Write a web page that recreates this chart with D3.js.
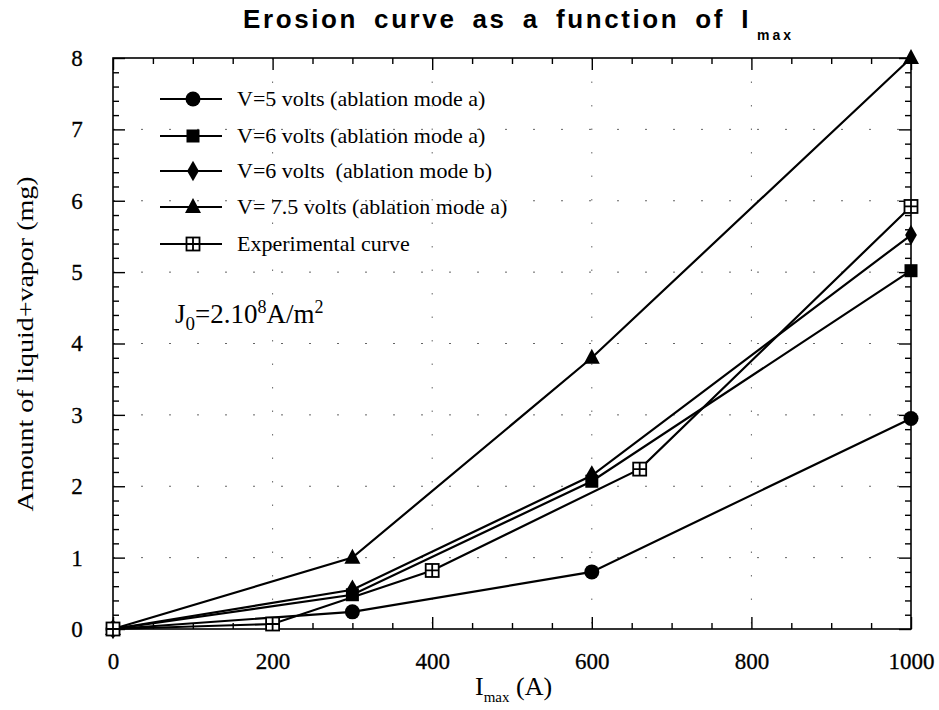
<!DOCTYPE html>
<html><head><meta charset="utf-8">
<script src="https://cdn.jsdelivr.net/npm/d3@7"></script>
<style>body{margin:0;background:#fff}</style>
</head><body>
<svg id="c" width="939" height="710"></svg>
<script>
const xTicks = [0, 200, 400, 600, 800, 1000];
const yTicks = [0, 1, 2, 3, 4, 5, 6, 7, 8];
const seriesNames = [
  "V=5 volts (ablation mode a)",
  "V=6 volts (ablation mode a)",
  "V=6 volts  (ablation mode b)",
  "V= 7.5 volts (ablation mode a)",
  "Experimental curve"
];
const seriesMarkers = ["circle", "square", "diamond", "triangle", "boxcross"];
const v5x = [0, 300, 600, 1000];
const v5y = [0, 0.24, 0.80, 2.95];
const v6ax = [0, 300, 600, 1000];
const v6ay = [0, 0.48, 2.07, 5.02];
const v6bx = [0, 300, 600, 1000];
const v6by = [0, 0.55, 2.15, 5.52];
const v75x = [0, 300, 600, 1000];
const v75y = [0, 1.0, 3.8, 8.0];
const expX = [0, 200, 400, 660, 1000];
const expY = [0, 0.07, 0.82, 2.24, 5.92];

const seriesData = [
  d3.zip(v5x, v5y), d3.zip(v6ax, v6ay), d3.zip(v6bx, v6by), d3.zip(v75x, v75y), d3.zip(expX, expY)
];

const svg = d3.select("#c");
const L = 113, R = 911, T = 58, B = 629;
const x = d3.scaleLinear().domain([0, 1000]).range([L, R]);
const y = d3.scaleLinear().domain([0, 8]).range([B, T]);
const serif = "'Liberation Serif','Times New Roman',serif";

// sparse dotted grid
const g = svg.append("g");
g.selectAll("line.gx").data(xTicks.slice(1, -1)).join("line")
  .attr("x1", d => x(d)).attr("x2", d => x(d)).attr("y1", T).attr("y2", B)
  .attr("stroke", "#000").attr("stroke-width", 1).attr("stroke-dasharray", "1.5,22").attr("opacity", 0.6);
g.selectAll("line.gy").data(yTicks.slice(1, -1)).join("line")
  .attr("y1", d => y(d)).attr("y2", d => y(d)).attr("x1", L).attr("x2", R)
  .attr("stroke", "#000").attr("stroke-width", 1).attr("stroke-dasharray", "2,26").attr("opacity", 0.6);

// frame
svg.append("rect").attr("x", L).attr("y", T).attr("width", R - L).attr("height", B - T)
  .attr("fill", "none").attr("stroke", "#000").attr("stroke-width", 1.6);

// inward ticks via d3 axes
const xMinor = d3.range(0, 1001, 50);
const yMinor = d3.range(0, 8.001, 0.2).map(v => +v.toFixed(1));
function ticksOn(axisGen, tr, vals, size) {
  svg.append("g").attr("transform", tr)
    .call(axisGen.tickValues(vals).tickSize(size).tickFormat(""))
    .call(s => s.select(".domain").remove())
    .call(s => s.selectAll("line").attr("stroke-width", 1.4));
}
const xMaj = xTicks, yMaj = yTicks;
ticksOn(d3.axisTop(x), `translate(0,${B})`, xMinor.filter(v => !xMaj.includes(v)), 6);
ticksOn(d3.axisTop(x), `translate(0,${B})`, xMaj, 12);
ticksOn(d3.axisBottom(x), `translate(0,${T})`, xMinor.filter(v => !xMaj.includes(v)), 6);
ticksOn(d3.axisBottom(x), `translate(0,${T})`, xMaj, 12);
ticksOn(d3.axisRight(y), `translate(${L},0)`, yMinor.filter(v => !yMaj.includes(v)), 6);
ticksOn(d3.axisRight(y), `translate(${L},0)`, yMaj, 12);
ticksOn(d3.axisLeft(y), `translate(${R},0)`, yMinor.filter(v => !yMaj.includes(v)), 6);
ticksOn(d3.axisLeft(y), `translate(${R},0)`, yMaj, 12);

// tick labels
svg.append("g").attr("transform", `translate(0,${B})`)
  .call(d3.axisBottom(x).tickValues(xTicks).tickSize(0).tickPadding(24).tickFormat(d3.format("d")))
  .call(s => s.select(".domain").remove())
  .call(s => s.selectAll("text").attr("font-family", serif).attr("font-size", 23).attr("fill", "#000")
    .attr("stroke", "#000").attr("stroke-width", 0.3));
svg.append("g").attr("transform", `translate(${L},0)`)
  .call(d3.axisLeft(y).tickValues(yTicks).tickSize(0).tickPadding(0).tickFormat(d3.format("d")))
  .call(s => s.select(".domain").remove())
  .call(s => s.selectAll("text").attr("font-family", serif).attr("font-size", 23).attr("fill", "#000")
    .attr("text-anchor", "middle").attr("x", 77 - L).attr("stroke", "#000").attr("stroke-width", 0.3));

// axis titles
const xt = svg.append("text").attr("x", 475).attr("y", 695)
  .attr("font-family", serif).attr("font-size", 26);
xt.append("tspan").text("I");
xt.append("tspan").attr("dy", 7).attr("font-size", 15).text("max");
xt.append("tspan").attr("dy", -7).text(" (A)");
svg.append("text").attr("transform", "translate(33,344) rotate(-90)").attr("text-anchor", "middle")
  .attr("font-family", serif).attr("font-size", 24).attr("textLength", 335).attr("lengthAdjust", "spacingAndGlyphs")
  .text("Amount of liquid+vapor (mg)");

// title
const tt = svg.append("text").attr("x", 243).attr("y", 28)
  .attr("font-family", "'Liberation Sans',Arial,sans-serif").attr("font-weight", "bold").attr("font-size", 26);
const tMain = tt.append("tspan").attr("letter-spacing", 2.6).text("Erosion curve as a function of I");
const natLen = tMain.node().getComputedTextLength();
tMain.attr("word-spacing", Math.max(0, (508 - natLen) / 6));
tt.append("tspan").attr("x", 757).attr("dy", 12).attr("font-size", 14).attr("letter-spacing", 3).text("max");

// lines
const line = d3.line().x(d => x(d[0])).y(d => y(d[1]));
svg.append("g").selectAll("path").data(seriesData).join("path")
  .attr("d", line).attr("fill", "none").attr("stroke", "#000").attr("stroke-width", 2.2);

function marker(sel, type) {
  if (type === "circle") sel.append("circle").attr("r", 7.5).attr("fill", "#000");
  else if (type === "square") sel.append("rect").attr("x", -6.5).attr("y", -6.5).attr("width", 13).attr("height", 13).attr("fill", "#000");
  else if (type === "diamond") sel.append("path").attr("d", d3.symbol(d3.symbolDiamond, 120)()).attr("fill", "#000");
  else if (type === "triangle") sel.append("path").attr("d", "M0,-9L8,6L-8,6Z").attr("fill", "#000");
  else if (type === "boxcross") {
    sel.append("rect").attr("x", -6.5).attr("y", -6.5).attr("width", 13).attr("height", 13).attr("fill", "#fff").attr("stroke", "#000").attr("stroke-width", 1.8);
    sel.append("path").attr("d", "M0,-6.5V6.5M-6.5,0H6.5").attr("stroke", "#000").attr("stroke-width", 1.8);
  }
}
seriesData.forEach((pts, i) => {
  svg.append("g").selectAll("g").data(pts).join("g")
    .attr("transform", d => `translate(${x(d[0])},${y(d[1])})`)
    .each(function () { marker(d3.select(this), seriesMarkers[i]); });
});

// legend
const legY = [99, 136, 171, 207, 244];
seriesNames.forEach((n, i) => {
  const lg = svg.append("g").attr("transform", `translate(0,${legY[i]})`);
  lg.append("line").attr("x1", 160).attr("x2", 222).attr("stroke", "#000").attr("stroke-width", 2.2);
  marker(lg.append("g").attr("transform", "translate(193,0)"), seriesMarkers[i]);
  lg.append("text").attr("x", 237).attr("y", 7).attr("font-family", serif).attr("font-size", 22)
    .attr("xml:space", "preserve").style("white-space", "pre").text(n);
});

// annotation
const an = svg.append("text").attr("x", 175).attr("y", 323).attr("font-family", serif).attr("font-size", 27);
an.append("tspan").text("J");
an.append("tspan").attr("dy", 7).attr("font-size", 19).text("0");
an.append("tspan").attr("dy", -7).text("=2.10");
an.append("tspan").attr("dy", -10).attr("font-size", 18).text("8");
an.append("tspan").attr("dy", 10).text("A/m");
an.append("tspan").attr("dy", -10).attr("font-size", 18).text("2");
</script>
</body></html>
